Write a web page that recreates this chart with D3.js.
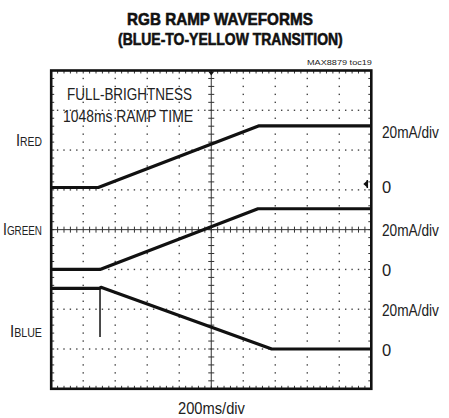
<!DOCTYPE html>
<html>
<head>
<meta charset="utf-8">
<script src="https://cdn.jsdelivr.net/npm/d3@7"></script>
<style>
  body { margin: 0; background: #fff; }
  text { font-family: "Liberation Sans", Arial, sans-serif; fill: #222; }
</style>
</head>
<body>
<div id="chart"></div>
<script>
// time in ms, current in mA
var redTime = [0, 294, 1299, 2000];
var redCurrent = [0, 0, 31, 31];
var greenTime = [0, 305, 1292, 2000];
var greenCurrent = [0, 0, 30.5, 30.5];
var blueTime = [0, 300, 311, 1378, 2000];
var blueCurrent = [30.5, 30.5, 31, 0, 0];
var blueGlitch = {time: 305, from: 30.5, to: 6};

var channelNames = ["RED", "GREEN", "BLUE"];
var scaleLabel = "20mA/div";
var timeLabel = "200ms/div";

(function() {
var width = 449, height = 418;
var pLeft = 51.2, pRight = 371.3, pTop = 70.5, pBottom = 388.8;
var xDivs = 10, yDivs = 8, minor = 5;

var svg = d3.select("#chart").append("svg")
    .attr("width", width)
    .attr("height", height);

var x = d3.scaleLinear().domain([0, 2000]).range([pLeft, pRight]);
var y = d3.scaleLinear().domain([0, yDivs]).range([pBottom, pTop]);   // in divisions
var xd = d3.scaleLinear().domain([0, xDivs]).range([pLeft, pRight]);  // x in divisions

// zero level of each channel, in divisions from the bottom
var baseDiv = {RED: 5.06, GREEN: 3.0, BLUE: 1.0};
function yCh(ch, mA) { return y(baseDiv[ch] + mA / 20); }

// put text at (x0, y0) and squeeze it horizontally to width w (condensed look)
function label(x0, y0, w) {
    var g = svg.append("g");
    var t = g.append("text").attr("x", 0).attr("y", 0);
    t.place = function() {
        var natural = t.node().getComputedTextLength();
        g.attr("transform", "translate(" + x0 + "," + y0 + ") scale(" + (w / natural) + ",1)");
        return t;
    };
    return t;
}

var grid = svg.append("g");

// dotted gridlines
var dots = [];
for (var k = 1; k < xDivs; k++) {
    if (k == 5) continue;
    for (var j = 1; j < yDivs * minor; j++) {
        if (j % minor == 0) continue;
        dots.push([xd(k), y(j / minor)]);
    }
}
for (var k = 1; k < yDivs; k++) {
    if (k == 4) continue;
    for (var j = 1; j < xDivs * minor; j++) {
        dots.push([xd(j / minor), y(k)]);
    }
}
grid.selectAll("rect.dot")
    .data(dots)
    .enter().append("rect")
    .attr("class", "dot")
    .attr("x", function(d) { return d[0] - 0.7; })
    .attr("y", function(d) { return d[1] - 0.7; })
    .attr("width", 1.4)
    .attr("height", 1.4)
    .attr("fill", "#444");

// center axes with minor ticks
var cx = xd(5), cy = y(4);
grid.append("line").attr("x1", cx).attr("x2", cx).attr("y1", pTop).attr("y2", pBottom)
    .attr("stroke", "#333").attr("stroke-width", 1);
grid.append("line").attr("x1", pLeft).attr("x2", pRight).attr("y1", cy).attr("y2", cy)
    .attr("stroke", "#333").attr("stroke-width", 1);

var tickLines = [];
for (var j = 1; j < yDivs * minor; j++) {
    var yy = y(j / minor);
    tickLines.push([cx - 3, yy, cx + 3, yy]);
    tickLines.push([pLeft, yy, pLeft + 3, yy]);
    tickLines.push([pRight - 3, yy, pRight, yy]);
}
for (var j = 1; j < xDivs * minor; j++) {
    var xx = xd(j / minor);
    tickLines.push([xx, cy - 3, xx, cy + 3]);
    tickLines.push([xx, pTop, xx, pTop + 3]);
    tickLines.push([xx, pBottom - 3, xx, pBottom]);
}
grid.selectAll("line.tick")
    .data(tickLines)
    .enter().append("line")
    .attr("class", "tick")
    .attr("x1", function(d) { return d[0]; })
    .attr("y1", function(d) { return d[1]; })
    .attr("x2", function(d) { return d[2]; })
    .attr("y2", function(d) { return d[3]; })
    .attr("stroke", "#333")
    .attr("stroke-width", 1);

// frame
svg.append("rect")
    .attr("x", pLeft).attr("y", pTop)
    .attr("width", pRight - pLeft).attr("height", pBottom - pTop)
    .attr("fill", "none").attr("stroke", "#111").attr("stroke-width", 2.6);

// trigger marker on top, ground marker for red
svg.append("path")
    .attr("d", "M" + (cx - 3) + "," + (pTop + 1) + "L" + (cx + 3) + "," + (pTop + 1) + "L" + cx + "," + (pTop + 5) + "Z")
    .attr("fill", "#111");
var gy = yCh("RED", 0) - 3.5;
svg.append("path")
    .attr("d", "M" + (pRight - 8) + "," + gy + "L" + (pRight - 4) + "," + (gy - 3.5) + "L" + (pRight - 4) + "," + (gy + 3.5) + "Z")
    .attr("fill", "#111");
svg.append("line").attr("x1", pRight - 4).attr("x2", pRight - 4).attr("y1", gy - 4).attr("y2", gy + 4)
    .attr("stroke", "#111").attr("stroke-width", 1.5);

// traces
var traces = [
    {ch: "RED", t: redTime, v: redCurrent},
    {ch: "GREEN", t: greenTime, v: greenCurrent},
    {ch: "BLUE", t: blueTime, v: blueCurrent}
];
traces.forEach(function(tr) {
    var line = d3.line()
        .x(function(d) { return x(d[0]); })
        .y(function(d) { return yCh(tr.ch, d[1]); });
    svg.append("path")
        .datum(d3.zip(tr.t, tr.v))
        .attr("d", line)
        .attr("fill", "none")
        .attr("stroke", "#111")
        .attr("stroke-width", 3.2)
        .attr("stroke-linejoin", "round");
});
svg.append("line")
    .attr("x1", x(blueGlitch.time)).attr("x2", x(blueGlitch.time))
    .attr("y1", yCh("BLUE", blueGlitch.from)).attr("y2", yCh("BLUE", blueGlitch.to))
    .attr("stroke", "#111").attr("stroke-width", 1.5);

// titles
label(127, 25, 186)
    .style("font-weight", "bold").style("font-size", "17px").style("fill", "#111")
    .style("stroke", "#111").style("stroke-width", "0.6px")
    .text("RGB RAMP WAVEFORMS").place();
label(118, 45, 225)
    .style("font-weight", "bold").style("font-size", "17px").style("fill", "#111")
    .style("stroke", "#111").style("stroke-width", "0.6px")
    .text("(BLUE-TO-YELLOW TRANSITION)").place();
label(307, 65, 65).style("font-size", "8px").text("MAX8879 toc19").place();

// annotation
label(67, 100, 125).style("font-size", "16.5px").text("FULL-BRIGHTNESS").place();
label(63, 122, 130).style("font-size", "16.5px").text("1048ms RAMP TIME").place();

// channel labels
var labelX = {RED: 16, GREEN: 3, BLUE: 10};
var labelBase = {RED: 146, GREEN: 235, BLUE: 337};
var zeroBase = {RED: 192.5, GREEN: 276, BLUE: 356};
var scaleBase = {RED: 138, GREEN: 236, BLUE: 315.5};
channelNames.forEach(function(ch) {
    var t = label(labelX[ch], labelBase[ch], 42 - labelX[ch]);
    t.append("tspan").style("font-size", "17px").text("I");
    t.append("tspan").style("font-size", "12px").text(ch);
    t.place();
    label(382, scaleBase[ch], 57).style("font-size", "16.5px").text(scaleLabel).place();
    svg.append("text").attr("x", 382).attr("y", zeroBase[ch]).style("font-size", "16.5px").text("0");
});

label(178, 414, 67).style("font-size", "16.5px").text(timeLabel).place();
})();
</script>
</body>
</html>
